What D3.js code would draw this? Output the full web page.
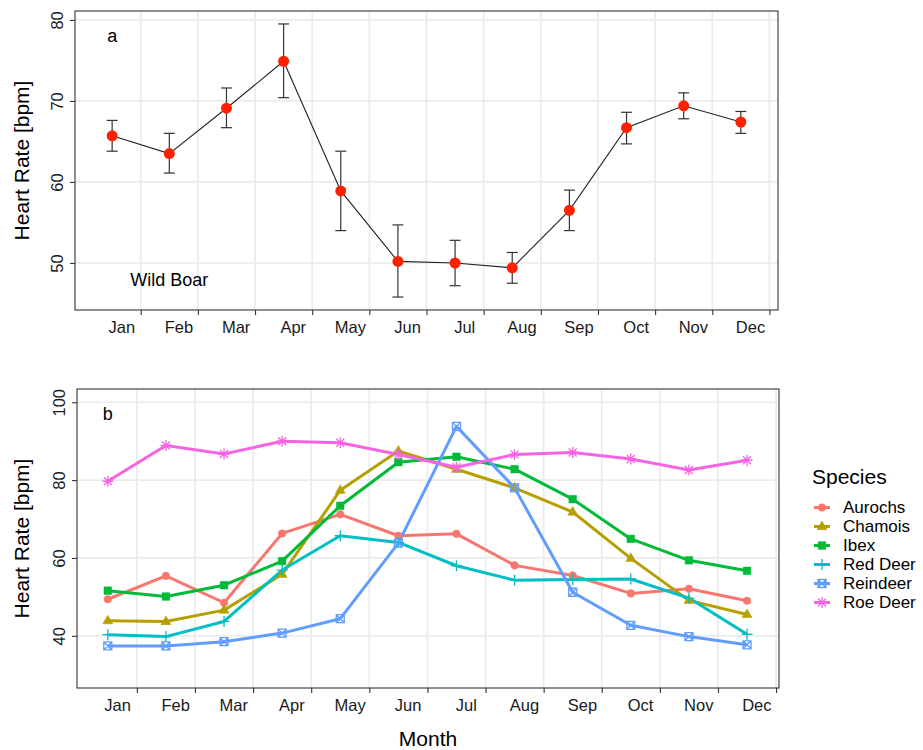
<!DOCTYPE html>
<html>
<head>
<meta charset="utf-8">
<script src="https://cdn.jsdelivr.net/npm/d3@7"></script>
<style>
  body { margin: 0; background: #fff; }
  svg { font-family: 'Liberation Sans', Arial, Helvetica, sans-serif; }
  .grid line { stroke: #ebebeb; stroke-width: 1.7; }
  .axis .domain { display: none; }
  .axis line { stroke: #333; stroke-width: 1.1; }
  .axis text { fill: #1a1a1a; font-size: 16.5px; }
  .title { fill: #000; font-size: 21px; }
</style>
</head>
<body>
<div id="chart"></div>
<script>
const months = ['Jan', 'Feb', 'Mar', 'Apr', 'May', 'Jun', 'Jul', 'Aug', 'Sep', 'Oct', 'Nov', 'Dec']

// panel a: wild boar, mean and error bar ends
const boarMean = [65.7, 63.5, 69.1, 74.9, 58.9, 50.2, 50.0, 49.4, 56.5, 66.7, 69.4, 67.4]
const boarLow  = [63.8, 61.1, 66.7, 70.4, 54.0, 45.8, 47.2, 47.5, 54.0, 64.7, 67.8, 66.0]
const boarHigh = [67.6, 66.0, 71.6, 79.5, 63.8, 54.7, 52.8, 51.3, 59.0, 68.6, 71.0, 68.7]

// panel b: one array per species
const species = ['Aurochs', 'Chamois', 'Ibex', 'Red Deer', 'Reindeer', 'Roe Deer']
const aurochs  = [49.4, 55.4, 48.5, 66.3, 71.2, 65.7, 66.2, 58.1, 55.5, 50.9, 52.1, 49.0]
const chamois  = [43.9, 43.7, 46.6, 55.8, 77.4, 87.5, 82.8, 78.0, 71.8, 59.9, 49.1, 45.5]
const ibex     = [51.6, 50.1, 53.0, 59.2, 73.4, 84.6, 86.0, 82.8, 75.1, 64.9, 59.4, 56.7]
const redDeer  = [40.3, 39.8, 43.7, 56.9, 65.7, 64.0, 58.0, 54.3, 54.5, 54.6, 49.7, 40.4]
const reindeer = [37.4, 37.4, 38.5, 40.7, 44.4, 63.8, 93.8, 78.0, 51.2, 42.7, 39.8, 37.7]
const roeDeer  = [79.7, 88.9, 86.7, 90.0, 89.6, 86.6, 83.3, 86.6, 87.1, 85.4, 82.6, 85.1]

const topYTicks = [50, 60, 70, 80]
const botYTicks = [40, 60, 80, 100]

const seriesValues = [aurochs, chamois, ibex, redDeer, reindeer, roeDeer]
const colors = ['#F8766D', '#B79F00', '#00BA38', '#00BFC4', '#619CFF', '#F564E3']
const shapes = ['circle', 'triangle', 'square', 'plus', 'squareX', 'asterisk']

const width = 923
const height = 750
const topBox = { left: 75, right: 778, top: 11, bottom: 310 }
const botBox = { left: 77, right: 779, top: 389, bottom: 688 }

const monthIdx = months.map((d, i) => i)
const boundaries = monthIdx.map(i => i + 0.5)
const labelPos = monthIdx.map(i => i + 0.16)

const xTop = d3.scaleLinear().domain([-0.65, 11.65]).range([topBox.left, topBox.right])
const yTop = d3.scaleLinear().domain([44.2, 81.1]).range([topBox.bottom, topBox.top])
const xBot = d3.scaleLinear().domain([-0.53, 11.55]).range([botBox.left, botBox.right])
const yBot = d3.scaleLinear().domain([26.6, 103.4]).range([botBox.bottom, botBox.top])

const svg = d3.select('#chart')
  .append('svg')
  .attr('width', width)
  .attr('height', height)
  .attr('viewBox', [0, 0, width, height])

// grid, axes and border for one panel
function drawFrame(box, x, y, yTicks) {
  const g = svg.append('g')

  const grid = g.append('g').attr('class', 'grid')
  grid.selectAll('.h').data(yTicks).join('line')
    .attr('x1', box.left).attr('x2', box.right)
    .attr('y1', d => y(d)).attr('y2', d => y(d))
  grid.selectAll('.v').data(boundaries).join('line')
    .attr('x1', d => x(d)).attr('x2', d => x(d))
    .attr('y1', box.top).attr('y2', box.bottom)

  g.append('g')
    .attr('class', 'axis')
    .attr('transform', `translate(0, ${box.bottom})`)
    .call(d3.axisBottom(x).tickValues(boundaries).tickSize(5).tickFormat(''))

  g.append('g')
    .attr('class', 'axis')
    .attr('transform', `translate(0, ${box.bottom})`)
    .call(d3.axisBottom(x).tickValues(labelPos).tickSize(0).tickPadding(11.5)
      .tickFormat((d, i) => months[i]))

  g.append('g')
    .attr('class', 'axis')
    .attr('transform', `translate(${box.left}, 0)`)
    .call(d3.axisLeft(y).tickValues(yTicks).tickSize(5))
    .call(a => a.selectAll('.tick text')
      .attr('x', 0).attr('y', -12).attr('dy', null)
      .attr('text-anchor', 'middle')
      .attr('transform', 'rotate(-90)'))

  g.append('text')
    .attr('class', 'title')
    .attr('text-anchor', 'middle')
    .attr('transform', `translate(28.5, ${(box.top + box.bottom) / 2}) rotate(-90)`)
    .text('Heart Rate [bpm]')

  return g
}

function border(box) {
  svg.append('rect')
    .attr('x', box.left).attr('y', box.top)
    .attr('width', box.right - box.left).attr('height', box.bottom - box.top)
    .attr('fill', 'none').attr('stroke', '#333').attr('stroke-width', 1.1)
}

// marker paths, centred at 0,0
function marker(shape) {
  const p = d3.path()
  if (shape === 'circle') { p.arc(0, 0, 3.8, 0, 2 * Math.PI) }
  if (shape === 'triangle') { p.moveTo(0, -5.5); p.lineTo(5, 3.2); p.lineTo(-5, 3.2); p.closePath() }
  if (shape === 'square') { p.rect(-3.8, -3.8, 7.6, 7.6) }
  if (shape === 'plus') { p.moveTo(-5.5, 0); p.lineTo(5.5, 0); p.moveTo(0, -5.5); p.lineTo(0, 5.5) }
  if (shape === 'squareX') {
    p.rect(-4, -4, 8, 8)
    p.moveTo(-4, -4); p.lineTo(4, 4); p.moveTo(4, -4); p.lineTo(-4, 4)
  }
  if (shape === 'asterisk') {
    p.moveTo(-5.5, 0); p.lineTo(5.5, 0); p.moveTo(0, -5.5); p.lineTo(0, 5.5)
    p.moveTo(-4, -4); p.lineTo(4, 4); p.moveTo(4, -4); p.lineTo(-4, 4)
  }
  return p.toString()
}
const filled = s => s === 'circle' || s === 'triangle' || s === 'square'

/* Panel a */
drawFrame(topBox, xTop, yTop, topYTicks)

const topG = svg.append('g')

topG.append('path')
  .datum(boarMean)
  .attr('fill', 'none')
  .attr('stroke', '#222')
  .attr('stroke-width', 1.1)
  .attr('d', d3.line().x((d, i) => xTop(i)).y(d => yTop(d)))

const bars = topG.selectAll('.err').data(monthIdx).join('g')
  .attr('stroke', '#333').attr('stroke-width', 1.2)
bars.append('line')
  .attr('x1', i => xTop(i)).attr('x2', i => xTop(i))
  .attr('y1', i => yTop(boarLow[i])).attr('y2', i => yTop(boarHigh[i]))
bars.append('line')
  .attr('x1', i => xTop(i) - 5.5).attr('x2', i => xTop(i) + 5.5)
  .attr('y1', i => yTop(boarLow[i])).attr('y2', i => yTop(boarLow[i]))
bars.append('line')
  .attr('x1', i => xTop(i) - 5.5).attr('x2', i => xTop(i) + 5.5)
  .attr('y1', i => yTop(boarHigh[i])).attr('y2', i => yTop(boarHigh[i]))

topG.selectAll('circle').data(boarMean).join('circle')
  .attr('cx', (d, i) => xTop(i))
  .attr('cy', d => yTop(d))
  .attr('r', 5.5)
  .attr('fill', '#ff2000')

topG.append('text')
  .attr('x', xTop(0)).attr('y', yTop(78))
  .attr('dy', '0.35em').attr('text-anchor', 'middle')
  .attr('font-size', 18)
  .text('a')

topG.append('text')
  .attr('x', xTop(1)).attr('y', yTop(48))
  .attr('dy', '0.35em').attr('text-anchor', 'middle')
  .attr('font-size', 18)
  .text('Wild Boar')

border(topBox)

/* Panel b */
drawFrame(botBox, xBot, yBot, botYTicks)

const botG = svg.append('g')
const speciesLine = d3.line().x((d, i) => xBot(i)).y(d => yBot(d))

botG.selectAll('.series').data(seriesValues).join('path')
  .attr('fill', 'none')
  .attr('stroke', (d, k) => colors[k])
  .attr('stroke-width', 3)
  .attr('stroke-linejoin', 'round')
  .attr('d', speciesLine)

seriesValues.forEach((vals, k) => {
  botG.append('g').selectAll('path').data(vals).join('path')
    .attr('transform', (d, i) => `translate(${xBot(i)}, ${yBot(d)})`)
    .attr('d', marker(shapes[k]))
    .attr('fill', filled(shapes[k]) ? colors[k] : 'none')
    .attr('stroke', colors[k])
    .attr('stroke-width', filled(shapes[k]) ? 0.5 : 1.3)
})

botG.append('text')
  .attr('x', xBot(0)).attr('y', yBot(97))
  .attr('dy', '0.35em').attr('text-anchor', 'middle')
  .attr('font-size', 18)
  .text('b')

border(botBox)

svg.append('text')
  .attr('class', 'title')
  .attr('x', (botBox.left + botBox.right) / 2)
  .attr('y', 746)
  .attr('text-anchor', 'middle')
  .text('Month')

/* Legend */
const legend = svg.append('g').attr('transform', 'translate(812, 484)')

legend.append('text')
  .attr('class', 'title')
  .text('Species')

const rows = legend.selectAll('.row').data(species).join('g')
  .attr('transform', (d, k) => `translate(10, ${23.5 + k * 19})`)

rows.append('line')
  .attr('x1', -8).attr('x2', 8)
  .attr('stroke', (d, k) => colors[k])
  .attr('stroke-width', 3)

rows.append('path')
  .attr('d', (d, k) => marker(shapes[k]))
  .attr('fill', (d, k) => filled(shapes[k]) ? colors[k] : 'none')
  .attr('stroke', (d, k) => colors[k])
  .attr('stroke-width', (d, k) => filled(shapes[k]) ? 0.5 : 1.3)

rows.append('text')
  .attr('x', 21)
  .attr('dy', '0.35em')
  .attr('font-size', 17)
  .text(d => d)
</script>
</body>
</html>
